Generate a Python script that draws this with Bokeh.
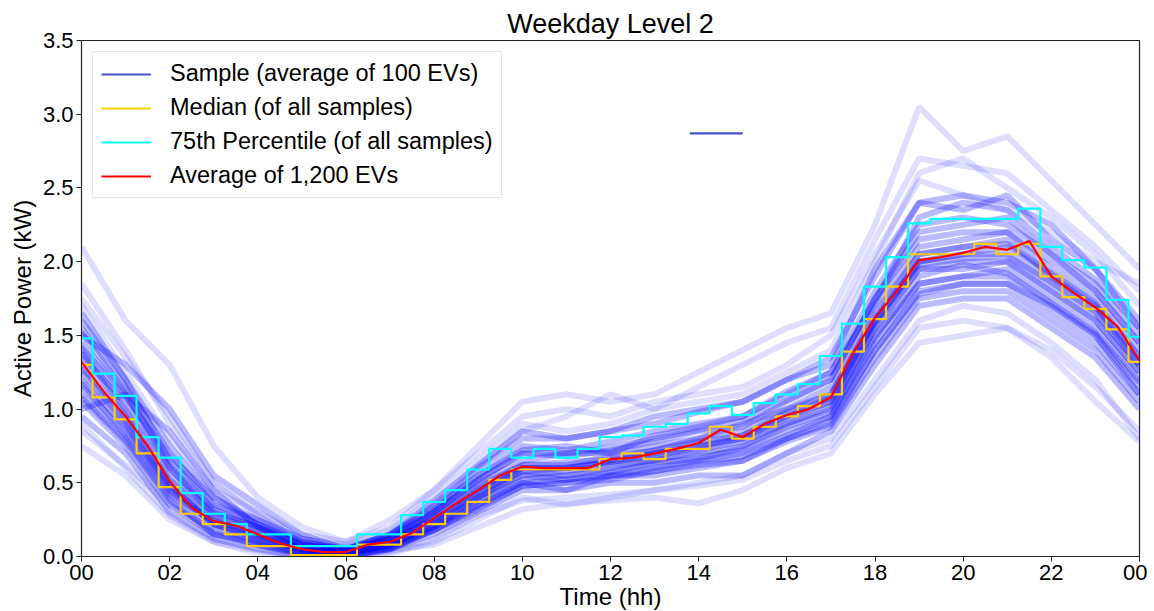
from bokeh.plotting import figure
from bokeh.models import FixedTicker, Range1d, Legend, LegendItem, NumeralTickFormatter, ColumnDataSource
from bokeh.embed import file_html
from bokeh.resources import INLINE

# ---------------- data ----------------
hours_full = [0, 1, 2, 3, 4, 5, 6, 7, 8, 9, 10, 11, 12, 13, 14, 15, 16, 17, 18, 19, 20, 21, 22, 23, 24]
hours_half = [0, 0.5, 1, 1.5, 2, 2.5, 3, 3.5, 4, 4.5, 5, 5.5, 6, 6.5, 7, 7.5, 8, 8.5, 9, 9.5,
              10, 10.5, 11, 11.5, 12, 12.5, 13, 13.5, 14, 14.5, 15, 15.5, 16, 16.5, 17, 17.5,
              18, 18.5, 19, 19.5, 20, 20.5, 21, 21.5, 22, 22.5, 23, 23.5, 24]

samples = [
    [2.10, 1.60, 1.30, 0.75, 0.40, 0.20, 0.10, 0.25, 0.45, 0.70, 0.95, 1.00, 0.95, 1.05, 1.10, 1.15, 1.30, 1.50, 2.05, 2.55, 2.45, 2.35, 2.20, 2.00, 1.85],
    [0.75, 0.55, 0.25, 0.10, 0.02, 0.00, 0.00, 0.02, 0.10, 0.25, 0.40, 0.35, 0.40, 0.45, 0.50, 0.55, 0.70, 0.80, 1.20, 1.60, 1.70, 1.65, 1.45, 1.20, 0.80],
    [1.55, 1.15, 0.70, 0.35, 0.25, 0.10, 0.05, 0.15, 0.35, 0.60, 0.80, 0.80, 0.85, 0.95, 1.00, 1.05, 1.20, 1.30, 1.95, 2.40, 2.35, 2.45, 2.15, 1.95, 1.55],
    [1.10, 0.80, 0.40, 0.15, 0.10, 0.02, 0.00, 0.05, 0.20, 0.35, 0.50, 0.45, 0.55, 0.55, 0.60, 0.65, 0.80, 0.90, 1.40, 1.80, 1.85, 1.85, 1.70, 1.50, 1.15],
    [1.40, 1.00, 0.55, 0.30, 0.20, 0.08, 0.05, 0.12, 0.30, 0.50, 0.65, 0.70, 0.70, 0.75, 0.80, 0.90, 1.00, 1.15, 1.70, 2.10, 2.15, 2.20, 1.95, 1.75, 1.40],
    [1.25, 0.90, 0.45, 0.22, 0.12, 0.05, 0.02, 0.08, 0.22, 0.40, 0.55, 0.58, 0.62, 0.65, 0.72, 0.78, 0.90, 1.00, 1.55, 1.95, 2.00, 2.00, 1.80, 1.60, 1.25],
    [1.70, 1.25, 0.80, 0.45, 0.30, 0.12, 0.08, 0.18, 0.40, 0.65, 0.90, 0.85, 0.90, 1.00, 1.05, 1.10, 1.25, 1.40, 2.00, 2.60, 2.70, 2.50, 2.30, 2.05, 1.70],
    [0.95, 0.70, 0.30, 0.12, 0.05, 0.00, 0.00, 0.05, 0.15, 0.30, 0.45, 0.45, 0.50, 0.50, 0.55, 0.55, 0.70, 0.85, 1.30, 1.70, 1.75, 1.75, 1.55, 1.35, 1.00],
    [1.35, 1.05, 0.60, 0.28, 0.18, 0.05, 0.03, 0.10, 0.28, 0.48, 0.62, 0.62, 0.68, 0.72, 0.80, 0.85, 1.00, 1.10, 1.65, 2.05, 2.10, 2.15, 1.90, 1.70, 1.35],
    [1.60, 1.20, 0.65, 0.35, 0.22, 0.10, 0.05, 0.15, 0.32, 0.55, 0.75, 0.72, 0.78, 0.85, 0.90, 0.95, 1.10, 1.25, 1.80, 2.25, 2.30, 2.25, 2.05, 1.85, 1.50],
    [1.15, 0.85, 0.45, 0.20, 0.10, 0.03, 0.02, 0.08, 0.20, 0.38, 0.52, 0.55, 0.58, 0.62, 0.68, 0.72, 0.85, 0.95, 1.50, 1.85, 1.90, 1.95, 1.75, 1.55, 1.20],
    [1.50, 1.30, 1.00, 0.55, 0.35, 0.15, 0.05, 0.12, 0.25, 0.42, 0.60, 0.60, 0.64, 0.70, 0.75, 0.80, 0.95, 1.05, 1.60, 2.00, 2.05, 2.05, 1.85, 1.65, 1.30],
    [1.30, 0.95, 0.50, 0.25, 0.15, 0.05, 0.02, 0.10, 0.25, 0.45, 0.60, 0.60, 0.65, 0.70, 0.75, 0.82, 0.95, 1.08, 1.60, 2.00, 2.05, 2.10, 1.90, 1.70, 1.30],
    [1.85, 1.40, 0.90, 0.50, 0.30, 0.15, 0.10, 0.20, 0.45, 0.75, 1.05, 1.10, 1.05, 1.10, 1.25, 1.40, 1.55, 1.65, 2.25, 3.05, 2.75, 2.85, 2.55, 2.25, 1.95],
    [1.05, 0.75, 0.35, 0.15, 0.08, 0.02, 0.00, 0.05, 0.18, 0.32, 0.48, 0.50, 0.52, 0.58, 0.62, 0.65, 0.78, 0.88, 1.35, 1.75, 1.80, 1.80, 1.60, 1.40, 1.05],
    [1.45, 1.10, 0.60, 0.30, 0.20, 0.08, 0.04, 0.12, 0.30, 0.52, 0.70, 0.68, 0.72, 0.78, 0.85, 0.88, 1.05, 1.20, 1.75, 2.20, 2.25, 2.30, 2.05, 1.80, 1.45],
    [1.20, 0.88, 0.48, 0.22, 0.12, 0.04, 0.02, 0.08, 0.22, 0.40, 0.58, 0.55, 0.60, 0.66, 0.70, 0.75, 0.90, 1.02, 1.55, 1.95, 1.95, 2.00, 1.80, 1.60, 1.25],
    [0.90, 0.60, 0.28, 0.10, 0.04, 0.00, 0.00, 0.03, 0.12, 0.28, 0.38, 0.40, 0.42, 0.45, 0.48, 0.52, 0.65, 0.75, 1.15, 1.55, 1.60, 1.55, 1.40, 1.15, 0.85],
    [1.65, 1.20, 0.75, 0.40, 0.25, 0.12, 0.06, 0.15, 0.38, 0.62, 0.85, 0.80, 0.85, 0.90, 0.98, 1.05, 1.20, 1.35, 1.90, 2.40, 2.45, 2.40, 2.25, 1.95, 1.60],
    [1.00, 1.10, 0.85, 0.45, 0.20, 0.05, 0.02, 0.06, 0.18, 0.35, 0.50, 0.52, 0.55, 0.60, 0.65, 0.70, 0.82, 0.95, 1.45, 1.85, 1.90, 1.90, 1.70, 1.50, 1.10],
    [1.38, 0.98, 0.52, 0.26, 0.16, 0.06, 0.03, 0.10, 0.26, 0.46, 0.62, 0.64, 0.66, 0.72, 0.78, 0.82, 0.98, 1.10, 1.62, 2.05, 2.10, 2.12, 1.92, 1.72, 1.36],
    [1.28, 0.92, 0.48, 0.22, 0.14, 0.04, 0.02, 0.09, 0.24, 0.44, 0.58, 0.60, 0.64, 0.68, 0.74, 0.80, 0.94, 1.05, 1.58, 1.98, 2.02, 2.04, 1.86, 1.66, 1.30],
    [1.52, 1.12, 0.62, 0.32, 0.20, 0.08, 0.04, 0.14, 0.30, 0.52, 0.70, 0.70, 0.74, 0.80, 0.86, 0.92, 1.06, 1.20, 1.75, 2.15, 2.20, 2.20, 2.00, 1.80, 1.45],
    [1.08, 0.78, 0.38, 0.16, 0.08, 0.02, 0.01, 0.06, 0.18, 0.34, 0.48, 0.50, 0.54, 0.58, 0.64, 0.68, 0.80, 0.92, 1.40, 1.78, 1.85, 1.85, 1.65, 1.45, 1.10],
    [1.75, 1.35, 0.95, 0.50, 0.28, 0.10, 0.04, 0.10, 0.30, 0.60, 0.85, 0.95, 1.10, 1.00, 1.15, 1.30, 1.45, 1.55, 2.15, 2.70, 2.65, 2.60, 2.35, 2.10, 1.80],
    [0.85, 0.62, 0.35, 0.18, 0.08, 0.01, 0.00, 0.04, 0.08, 0.20, 0.32, 0.36, 0.38, 0.40, 0.36, 0.45, 0.60, 0.70, 1.10, 1.45, 1.50, 1.55, 1.35, 1.05, 0.78],
    [1.42, 1.08, 0.68, 0.40, 0.22, 0.08, 0.05, 0.14, 0.34, 0.55, 0.72, 0.75, 0.70, 0.82, 0.88, 0.95, 1.12, 1.25, 1.72, 2.30, 2.40, 2.35, 2.10, 1.88, 1.55],
    [1.18, 0.82, 0.42, 0.24, 0.14, 0.06, 0.03, 0.07, 0.20, 0.40, 0.55, 0.52, 0.57, 0.64, 0.66, 0.74, 0.88, 0.98, 1.48, 1.90, 1.98, 1.92, 1.72, 1.52, 1.18],
]

median_vals = [1.30, 1.08, 0.93, 0.70, 0.47, 0.29, 0.22, 0.15, 0.07, 0.07, 0.01, 0.01, 0.01, 0.08,
               0.08, 0.15, 0.22, 0.29, 0.37, 0.52, 0.59, 0.59, 0.59, 0.59, 0.66, 0.70, 0.66, 0.73,
               0.73, 0.88, 0.80, 0.88, 0.95, 1.02, 1.10, 1.39, 1.61, 1.83, 2.05, 2.05, 2.05, 2.12,
               2.05, 2.12, 1.90, 1.76, 1.68, 1.54, 1.32]

p75_vals = [1.48, 1.24, 1.09, 0.81, 0.67, 0.43, 0.29, 0.22, 0.15, 0.15, 0.07, 0.07, 0.07, 0.15,
            0.15, 0.28, 0.37, 0.45, 0.59, 0.73, 0.67, 0.73, 0.67, 0.73, 0.81, 0.82, 0.88, 0.90,
            0.97, 1.02, 0.96, 1.04, 1.10, 1.17, 1.36, 1.58, 1.83, 2.03, 2.26, 2.29, 2.29, 2.29,
            2.29, 2.36, 2.10, 2.01, 1.96, 1.74, 1.49]

avg_vals = [1.32, 1.12, 0.95, 0.75, 0.51, 0.33, 0.24, 0.21, 0.15, 0.09, 0.05, 0.03, 0.03, 0.08,
            0.10, 0.16, 0.26, 0.36, 0.45, 0.55, 0.61, 0.60, 0.60, 0.60, 0.66, 0.67, 0.70, 0.73,
            0.77, 0.86, 0.81, 0.90, 0.96, 1.00, 1.08, 1.38, 1.62, 1.80, 2.01, 2.03, 2.06, 2.10,
            2.08, 2.14, 1.90, 1.79, 1.69, 1.56, 1.33]

stray_x = [13.8, 15.0]
stray_y = [2.87, 2.87]

x_ticks = [0, 2, 4, 6, 8, 10, 12, 14, 16, 18, 20, 22, 24]
x_labels = ["00", "02", "04", "06", "08", "10", "12", "14", "16", "18", "20", "22", "00"]
y_ticks = [0.0, 0.5, 1.0, 1.5, 2.0, 2.5, 3.0, 3.5]

legend_labels = ["Sample (average of 100 EVs)", "Median (of all samples)",
                 "75th Percentile (of all samples)", "Average of 1,200 EVs"]

# ---------------- figure ----------------
FONT = "Liberation Sans"
p = figure(output_backend="svg", toolbar_location=None,
           frame_width=1058, frame_height=516,
           x_range=Range1d(0, 24), y_range=Range1d(0, 3.5),
           min_border_left=81, min_border_right=8, min_border_top=40, min_border_bottom=10,
           title="Weekday Level 2")
p.title.align = "center"
p.title.text_font = FONT
p.title.text_font_size = "27px"
p.title.text_font_style = "normal"
p.title.text_color = "black"
p.title.standoff = 4

p.grid.visible = False
p.outline_line_color = "#222222"
p.outline_line_width = 1.2
p.background_fill_color = "white"
p.border_fill_color = "white"

for ax in (p.xaxis[0], p.yaxis[0]):
    ax.axis_label_text_font = FONT
    ax.axis_label_text_font_style = "normal"
    ax.axis_label_text_font_size = "24px"
    ax.axis_label_text_color = "black"
    ax.major_label_text_font = FONT
    ax.major_label_text_font_size = "22px"
    ax.major_label_text_color = "black"
    ax.axis_line_color = "#222222"
    ax.major_tick_line_color = "#222222"
    ax.major_tick_out = 5
    ax.major_tick_in = 0
    ax.minor_tick_line_color = None

p.xaxis.ticker = FixedTicker(ticks=x_ticks)
p.xaxis.major_label_overrides = {t: l for t, l in zip(x_ticks, x_labels)}
p.xaxis.axis_label = "Time (hh)"
p.xaxis.axis_label_standoff = 0
p.xaxis.major_label_standoff = 3

p.yaxis.ticker = FixedTicker(ticks=y_ticks)
p.yaxis.formatter = NumeralTickFormatter(format="0.0")
p.yaxis.axis_label = "Active Power (kW)"
p.yaxis.axis_label_standoff = 4
p.yaxis.major_label_standoff = 3

# samples: outermost series fainter, core series denser
outer = {0, 1, 6, 13, 17, 24, 25}
sample_alpha = [0.13 if i in outer else 0.27 for i in range(len(samples))]
src = ColumnDataSource(dict(xs=[hours_full] * len(samples), ys=samples, a=sample_alpha))
p.multi_line(xs="xs", ys="ys", source=src, line_color="blue", line_alpha="a", line_width=6)

stray = p.line(stray_x, stray_y, line_color="#4a50c8", line_width=2.2)
med = p.step(hours_half, median_vals, mode="center", line_color="#ffcc00", line_width=2.2)
pct = p.step(hours_half, p75_vals, mode="center", line_color="#00ffff", line_width=2.2)
avg = p.line(hours_half, avg_vals, line_color="#ff0000", line_width=2.2)

legend = Legend(items=[LegendItem(label=legend_labels[0], renderers=[stray]),
                       LegendItem(label=legend_labels[1], renderers=[med]),
                       LegendItem(label=legend_labels[2], renderers=[pct]),
                       LegendItem(label=legend_labels[3], renderers=[avg])],
                location="top_left")
legend.label_text_font = FONT
legend.label_text_font_size = "23.5px"
legend.label_text_color = "black"
legend.glyph_width = 50
legend.glyph_height = 26
legend.label_height = 26
legend.label_standoff = 19
legend.spacing = 7
legend.padding = 8
legend.margin = 11
legend.border_line_color = "#cccccc"
legend.border_line_width = 1
legend.background_fill_alpha = 0.9
p.add_layout(legend)

open("out.html", "w").write(file_html(p, INLINE))
